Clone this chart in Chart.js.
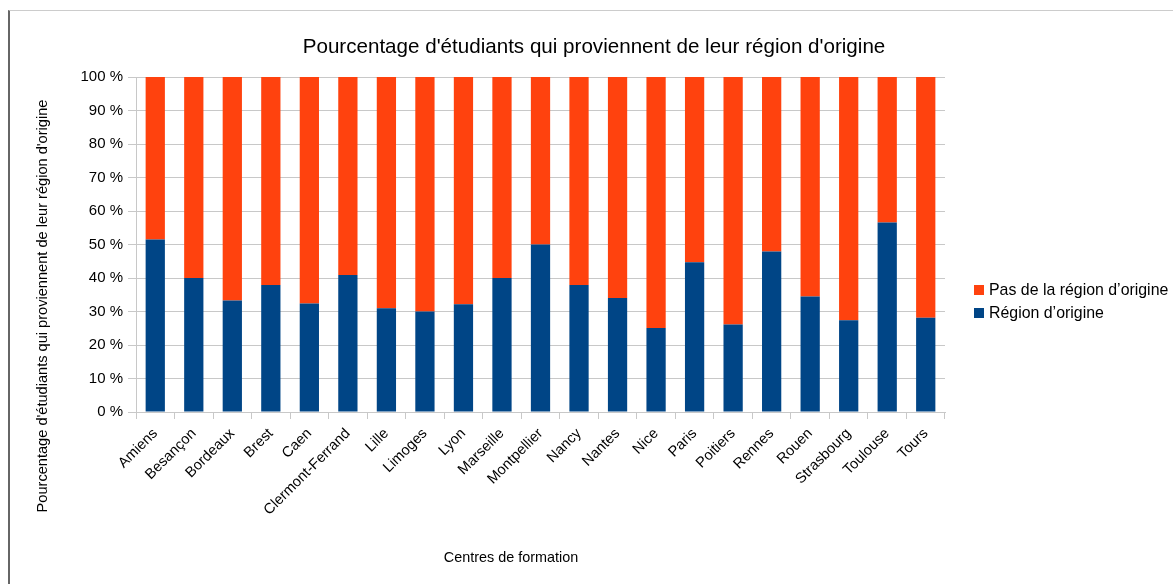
<!DOCTYPE html>
<html>
<head>
<meta charset="utf-8">
<script src="https://cdn.jsdelivr.net/npm/chart.js@4"></script>
<style>
  html, body { margin: 0; padding: 0; background: #ffffff; }
  #wrap { position: relative; width: 1173px; height: 584px; overflow: hidden; }
  #frame { position: absolute; left: 8px; top: 10px; right: -5px; bottom: -5px;
           border-left: 2px solid #666666; border-top: 1px solid #cccccc; }
  canvas { position: absolute; left: 0; top: 0; }
</style>
</head>
<body>
<div id="wrap">
  <div id="frame"></div>
  <canvas id="c" width="1173" height="584"></canvas>
</div>
<script>
const categories = ["Amiens", "Besançon", "Bordeaux", "Brest", "Caen", "Clermont-Ferrand", "Lille", "Limoges", "Lyon", "Marseille", "Montpellier", "Nancy", "Nantes", "Nice", "Paris", "Poitiers", "Rennes", "Rouen", "Strasbourg", "Toulouse", "Tours"];
const regionOrigine = [51.5, 40.0, 33.3, 37.9, 32.4, 40.9, 31.0, 30.0, 32.2, 40.0, 50.0, 37.9, 34.0, 25.1, 44.7, 26.1, 47.9, 34.5, 27.4, 56.6, 28.1];
const pasRegionOrigine = [48.5, 60.0, 66.7, 62.1, 67.6, 59.1, 69.0, 70.0, 67.8, 60.0, 50.0, 62.1, 66.0, 74.9, 55.3, 73.9, 52.1, 65.5, 72.6, 43.4, 71.9];
const yTicks = [0, 10, 20, 30, 40, 50, 60, 70, 80, 90, 100];

const chartTitle = "Pourcentage d'étudiants qui proviennent de leur région d'origine";
const yTitle = "Pourcentage d'étudiants qui proviennent de leur région d'origine";
const xTitle = "Centres de formation";
const seriesNames = ["Région d’origine", "Pas de la région d’origine"];

const FONT = "'Liberation Sans', Arial, sans-serif";
const BLUE = '#004586';
const ORANGE = '#ff420e';
const GRID = '#c8c8c8';

const textPlugin = {
  id: 'texts',
  afterDraw(chart) {
    const ctx = chart.ctx;
    ctx.save();
    ctx.fillStyle = '#000000';
    // main title
    ctx.font = '20.6px ' + FONT;
    ctx.textAlign = 'center';
    ctx.textBaseline = 'middle';
    ctx.fillText(chartTitle, 594, 47);
    // x title
    ctx.font = '14.4px ' + FONT;
    ctx.fillText(xTitle, 511, 558);
    // y title
    ctx.save();
    ctx.translate(43, 306);
    ctx.rotate(-Math.PI / 2);
    ctx.font = '14.6px ' + FONT;
    ctx.fillText(yTitle, 0, 0);
    ctx.restore();
    // legend (orange first, then blue)
    const items = [
      { label: chart.data.datasets[1].label, color: chart.data.datasets[1].backgroundColor, y: 290 },
      { label: chart.data.datasets[0].label, color: chart.data.datasets[0].backgroundColor, y: 313 }
    ];
    ctx.font = '15.9px ' + FONT;
    ctx.textAlign = 'left';
    items.forEach(it => {
      ctx.fillStyle = it.color;
      ctx.fillRect(974, it.y - 5, 10, 10);
      ctx.fillStyle = '#000000';
      ctx.fillText(it.label, 989, it.y + 1);
    });
    ctx.restore();
  }
};

new Chart(document.getElementById('c'), {
  type: 'bar',
  data: {
    labels: categories,
    datasets: [
      { label: seriesNames[0], data: regionOrigine, backgroundColor: BLUE, borderWidth: 0 },
      { label: seriesNames[1], data: pasRegionOrigine, backgroundColor: ORANGE, borderWidth: 0 }
    ]
  },
  options: {
    responsive: false,
    animation: false,
    devicePixelRatio: 1,
    layout: { padding: { top: 77, right: 228, left: 0, bottom: 0 } },
    datasets: { bar: { barPercentage: 0.5, categoryPercentage: 1.0 } },
    plugins: {
      legend: { display: false },
      title: { display: false },
      tooltip: { enabled: false }
    },
    scales: {
      x: {
        stacked: true,
        afterFit(scale) { scale.height = 172; },
        grid: {
          offset: true,
          drawOnChartArea: true,
          color: (c) => (c.index === categories.length ? GRID : 'rgba(0,0,0,0)'),
          tickColor: GRID,
          tickLength: 7,
          lineWidth: 1
        },
        border: { display: true, color: GRID },
        ticks: {
          minRotation: 45,
          maxRotation: 45,
          autoSkip: false,
          padding: 6,
          color: '#000000',
          font: { family: FONT, size: 14.6 }
        }
      },
      y: {
        stacked: true,
        min: 0,
        max: 100,
        afterFit(scale) { scale.width = 136; },
        afterBuildTicks(scale) { scale.ticks = yTicks.map(v => ({ value: v })); },
        grid: { color: GRID, tickColor: GRID, tickLength: 8, lineWidth: 1 },
        border: { display: true, color: GRID },
        ticks: {
          padding: 5,
          color: '#000000',
          font: { family: FONT, size: 15 },
          callback: (v) => v + ' %'
        }
      }
    }
  },
  plugins: [textPlugin]
});
</script>
</body>
</html>
